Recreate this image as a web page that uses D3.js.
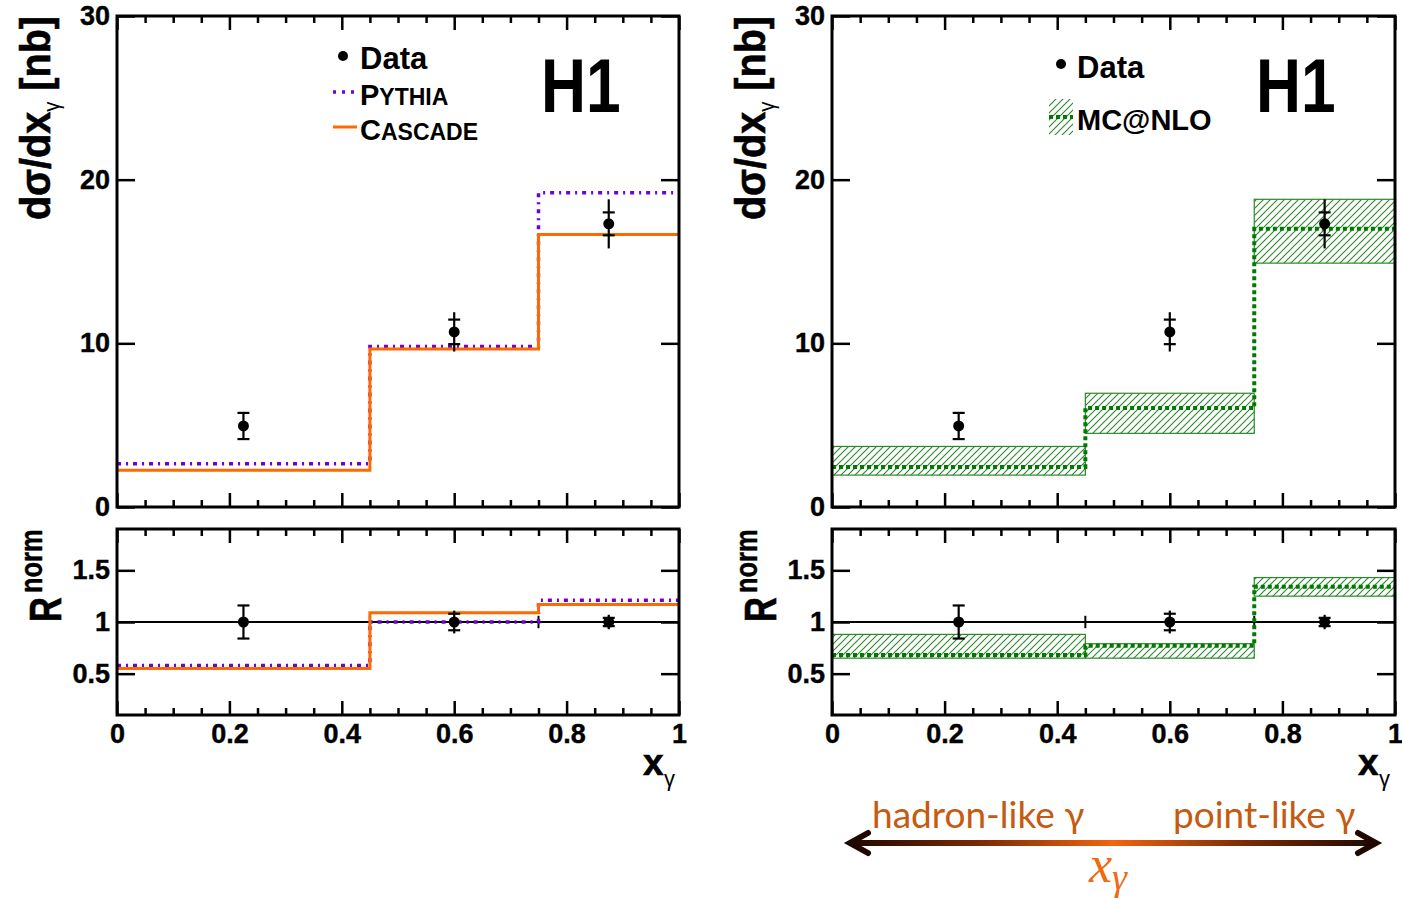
<!DOCTYPE html>
<html>
<head>
<meta charset="utf-8">
<script src="https://cdn.jsdelivr.net/npm/d3@7"></script>
<style>
  html, body { margin: 0; padding: 0; background: #fff; }
  svg { display: block; }
  .tk text { font-family: "Liberation Sans", Arial, sans-serif; font-weight: bold; font-size: 27px; fill: #000; stroke: #000; stroke-width: 0.4; }
  .tk path { display: none; }
  .tk line { stroke: #000; stroke-width: 2.5; }
</style>
</head>
<body>
<script>
// ---------------- data ----------------
const bins = [0, 0.45, 0.75, 1];
const xCenters = [0.225, 0.6, 0.875];
const dataVal = [4.95, 10.7, 17.3];
const dataStat = [0.8, 0.75, 0.7];
const dataTot = [0.85, 1.2, 1.5];
const pythiaVal = [2.65, 9.8, 19.2];
const cascadeVal = [2.25, 9.65, 16.65];
const mcnloVal = [2.45, 6.05, 17.0];
const mcnloLo = [1.95, 4.5, 14.9];
const mcnloHi = [3.7, 6.95, 18.8];
const ratioVal = [1, 1, 1];
const ratioStat = [0.16, 0.08, 0.04];
const ratioTot = [0.16, 0.11, 0.07];
const pythiaRatio = [0.58, 1.0, 1.21];
const cascadeRatio = [0.55, 1.09, 1.17];
const mcnloRatio = [0.68, 0.77, 1.34];
const mcnloRatioLo = [0.65, 0.65, 1.25];
const mcnloRatioHi = [0.88, 0.79, 1.43];
const xMajorTicks = [0, 0.2, 0.4, 0.6, 0.8, 1];
const xTickLabels = ["0", "0.2", "0.4", "0.6", "0.8", "1"];
const yTopTicks = [0, 10, 20, 30];
const yRatioTicks = [0.5, 1, 1.5];
const yRatioLabels = ["0.5", "1", "1.5"];

// ---------------- colours ----------------
const C_PYTHIA = "#6e00dc";
const C_CASCADE = "#ff6a00";
const C_MC = "#007a00";
const C_HATCH = "#2a8a2a";

const W = 1402, H = 898;
const svg = d3.select("body").append("svg").attr("width", W).attr("height", H);
const defs = svg.append("defs");

// hatch pattern
const pat = defs.append("pattern").attr("id", "hatch").attr("patternUnits", "userSpaceOnUse")
  .attr("width", 7).attr("height", 7);
pat.append("path").attr("d", "M-1.75,1.75 L1.75,-1.75 M0,7 L7,0 M5.25,8.75 L8.75,5.25")
  .attr("stroke", C_HATCH).attr("stroke-width", 1.1).attr("fill", "none");

// arrow gradient
const grad = defs.append("linearGradient").attr("id", "arrowGrad")
  .attr("gradientUnits", "userSpaceOnUse").attr("x1", 848).attr("x2", 1378).attr("y1", 0).attr("y2", 0);
grad.append("stop").attr("offset", "0%").attr("stop-color", "#200800");
grad.append("stop").attr("offset", "25%").attr("stop-color", "#7a2a04");
grad.append("stop").attr("offset", "50%").attr("stop-color", "#f26411");
grad.append("stop").attr("offset", "75%").attr("stop-color", "#7a2a04");
grad.append("stop").attr("offset", "100%").attr("stop-color", "#200800");

const FONT = '"Liberation Sans", Arial, sans-serif';

// ---------------- scales ----------------
const panels = [
  { x: d3.scaleLinear().domain([0, 1]).range([117, 679]), kind: "left" },
  { x: d3.scaleLinear().domain([0, 1]).range([832, 1395]), kind: "right" }
];
const yTop = d3.scaleLinear().domain([0, 30]).range([507, 16]);
const yRat = d3.scaleLinear().domain([0.1, 1.9]).range([715, 529]);

const stepLine = (x, y) => d3.line().curve(d3.curveStepAfter).x(d => x(d[0])).y(d => y(d[1]));
const stepPts = vals => bins.slice(0, -1).map((b, i) => [b, vals[i]]).concat([[bins[bins.length - 1], vals[vals.length - 1]]]);

function drawAxes(g, x, y, yTicks, yLabels, withXLabels) {
  const [x0, x1] = x.range();
  const [yb, yt] = y.range();
  const minor = d3.range(0, 1.0001, 0.05).filter(v => Math.abs(v * 5 - Math.round(v * 5)) > 1e-6);
  g.append("g").attr("class", "tk").attr("transform", `translate(0,${yb})`)
    .call(d3.axisBottom(x).tickValues(minor).tickSizeInner(-7).tickSizeOuter(0).tickFormat(""));
  g.append("g").attr("class", "tk").attr("transform", `translate(0,${yb})`)
    .call(d3.axisBottom(x).tickValues(xMajorTicks).tickSizeInner(-14).tickSizeOuter(0).tickPadding(9)
      .tickFormat((d, i) => withXLabels ? xTickLabels[i] : ""));
  g.append("g").attr("class", "tk").attr("transform", `translate(0,${yt})`)
    .call(d3.axisTop(x).tickValues(minor).tickSizeInner(-7).tickSizeOuter(0).tickFormat(""));
  g.append("g").attr("class", "tk").attr("transform", `translate(0,${yt})`)
    .call(d3.axisTop(x).tickValues(xMajorTicks).tickSizeInner(-14).tickSizeOuter(0).tickFormat(""));
  g.append("g").attr("class", "tk").attr("transform", `translate(${x0},0)`)
    .call(d3.axisLeft(y).tickValues(yTicks).tickSizeInner(-18).tickSizeOuter(0).tickPadding(7)
      .tickFormat((d, i) => yLabels[i]));
  g.append("g").attr("class", "tk").attr("transform", `translate(${x1},0)`)
    .call(d3.axisRight(y).tickValues(yTicks).tickSizeInner(-18).tickSizeOuter(0).tickFormat(""));
  g.append("rect").attr("x", x0).attr("y", yt).attr("width", x1 - x0).attr("height", yb - yt)
    .attr("fill", "none").attr("stroke", "#000").attr("stroke-width", 3);
}

function drawData(g, x, y, vals, stat, tot) {
  xCenters.forEach((c, i) => {
    const cx = x(c);
    g.append("line").attr("x1", cx).attr("x2", cx).attr("y1", y(vals[i] - tot[i])).attr("y2", y(vals[i] + tot[i]))
      .attr("stroke", "#000").attr("stroke-width", 2.2);
    [vals[i] - stat[i], vals[i] + stat[i]].forEach(v => {
      g.append("line").attr("x1", cx - 6).attr("x2", cx + 6).attr("y1", y(v)).attr("y2", y(v))
        .attr("stroke", "#000").attr("stroke-width", 2.2);
    });
    g.append("circle").attr("cx", cx).attr("cy", y(vals[i])).attr("r", 5.5).attr("fill", "#000");
  });
}

function drawBand(g, x, y, lo, hi) {
  lo.forEach((l, i) => {
    g.append("rect").attr("x", x(bins[i])).attr("width", x(bins[i + 1]) - x(bins[i]))
      .attr("y", y(hi[i])).attr("height", y(l) - y(hi[i]))
      .attr("fill", "url(#hatch)").attr("stroke", C_HATCH).attr("stroke-width", 1.2);
  });
}

function drawStep(g, x, y, vals, color, width, dash) {
  g.append("path").attr("d", stepLine(x, y)(stepPts(vals))).attr("fill", "none")
    .attr("stroke", color).attr("stroke-width", width).attr("stroke-dasharray", dash || null);
}

function unityLine(g, x) {
  g.append("line").attr("x1", x(0)).attr("x2", x(1)).attr("y1", yRat(1)).attr("y2", yRat(1))
    .attr("stroke", "#000").attr("stroke-width", 2.2);
  bins.slice(1, -1).forEach(b => {
    g.append("line").attr("x1", x(b)).attr("x2", x(b)).attr("y1", yRat(0.94)).attr("y2", yRat(1.06))
      .attr("stroke", "#000").attr("stroke-width", 2);
  });
}

function titles(g, dx) {
  const t = g.append("text").attr("transform", `translate(${50 + dx},16) rotate(-90) scale(0.92,1)`)
    .attr("text-anchor", "end").attr("font-family", FONT).attr("font-weight", "bold").attr("font-size", 43)
    .attr("stroke", "#000").attr("stroke-width", 0.6);
  t.append("tspan").text("dσ/dx");
  t.append("tspan").attr("font-size", 22).attr("font-weight", "normal").attr("stroke-width", 0).attr("dy", 9).text("γ");
  t.append("tspan").attr("dy", -9).text(" [nb]");
  g.append("text").attr("transform", `translate(${61 + dx},622) rotate(-90) scale(0.78,1)`)
    .attr("font-family", FONT).attr("font-weight", "bold").attr("font-size", 44)
    .attr("stroke", "#000").attr("stroke-width", 0.6).text("R");
  g.append("text").attr("transform", `translate(${42 + dx},593) rotate(-90) scale(0.82,1)`)
    .attr("font-family", FONT).attr("font-weight", "bold").attr("font-size", 31)
    .attr("stroke", "#000").attr("stroke-width", 0.4).text("norm");
  g.append("text").attr("x", 643 + dx).attr("y", 775).attr("font-family", FONT).attr("font-weight", "bold")
    .attr("font-size", 37).attr("stroke", "#000").attr("stroke-width", 0.6).text("x");
  g.append("text").attr("x", 664 + dx).attr("y", 786).attr("font-family", FONT)
    .attr("font-size", 22).text("γ");
  g.append("text").attr("transform", `translate(${541 + dx},112) scale(0.82,1)`)
    .attr("font-family", FONT).attr("font-weight", "bold").attr("font-size", 76).text("H1");
}

// ---------------- left panel ----------------
{
  const x = panels[0].x;
  const g = svg.append("g");
  drawStep(g, x, yTop, pythiaVal, C_PYTHIA, 3.5, "4,5,2,5");
  drawStep(g, x, yTop, cascadeVal, C_CASCADE, 3);
  drawData(g, x, yTop, dataVal, dataStat, dataTot);
  drawAxes(g, x, yTop, yTopTicks, yTopTicks.map(String), false);

  unityLine(g, x);
  drawStep(g, x, yRat, pythiaRatio, C_PYTHIA, 3.5, "4,5,2,5");
  drawStep(g, x, yRat, cascadeRatio, C_CASCADE, 3);
  drawData(g, x, yRat, ratioVal, ratioStat, ratioTot);
  drawAxes(g, x, yRat, yRatioTicks, yRatioLabels, true);
  titles(g, 0);

  const lg = g.append("g").attr("font-family", FONT).attr("font-weight", "bold");
  lg.append("circle").attr("cx", 343).attr("cy", 56).attr("r", 5).attr("fill", "#000");
  lg.append("text").attr("x", 360).attr("y", 69).attr("font-size", 31).text("Data");
  lg.append("line").attr("x1", 333).attr("x2", 357).attr("y1", 92).attr("y2", 92)
    .attr("stroke", C_PYTHIA).attr("stroke-width", 3.5).attr("stroke-dasharray", "3,6");
  const tp = lg.append("text").attr("x", 360).attr("y", 105).attr("font-size", 29);
  tp.append("tspan").text("P");
  tp.append("tspan").attr("font-size", 23).text("YTHIA");
  lg.append("line").attr("x1", 333).attr("x2", 357).attr("y1", 127).attr("y2", 127)
    .attr("stroke", C_CASCADE).attr("stroke-width", 3);
  const tc = lg.append("text").attr("x", 360).attr("y", 140).attr("font-size", 29);
  tc.append("tspan").text("C");
  tc.append("tspan").attr("font-size", 23).text("ASCADE");
}

// ---------------- right panel ----------------
{
  const x = panels[1].x;
  const g = svg.append("g");
  drawBand(g, x, yTop, mcnloLo, mcnloHi);
  drawStep(g, x, yTop, mcnloVal, C_MC, 4, "4,3");
  drawData(g, x, yTop, dataVal, dataStat, dataTot);
  drawAxes(g, x, yTop, yTopTicks, yTopTicks.map(String), false);

  drawBand(g, x, yRat, mcnloRatioLo, mcnloRatioHi);
  unityLine(g, x);
  drawStep(g, x, yRat, mcnloRatio, C_MC, 4, "4,3");
  drawData(g, x, yRat, ratioVal, ratioStat, ratioTot);
  drawAxes(g, x, yRat, yRatioTicks, yRatioLabels, true);
  titles(g, 715);

  const lg = g.append("g").attr("font-family", FONT).attr("font-weight", "bold");
  lg.append("circle").attr("cx", 1061).attr("cy", 64).attr("r", 5).attr("fill", "#000");
  lg.append("text").attr("x", 1077).attr("y", 78).attr("font-size", 31).text("Data");
  lg.append("rect").attr("x", 1049).attr("y", 99).attr("width", 24).attr("height", 36).attr("fill", "url(#hatch)");
  lg.append("line").attr("x1", 1049).attr("x2", 1073).attr("y1", 117).attr("y2", 117)
    .attr("stroke", C_MC).attr("stroke-width", 4).attr("stroke-dasharray", "4,3");
  lg.append("text").attr("x", 1077).attr("y", 130).attr("font-size", 29).text("MC@NLO");
}

// ---------------- annotation ----------------
{
  const g = svg.append("g");
  const ay = 843;
  g.append("line").attr("x1", 852).attr("x2", 1374).attr("y1", ay).attr("y2", ay)
    .attr("stroke", "url(#arrowGrad)").attr("stroke-width", 6);
  g.append("path").attr("d", `M868,${ay - 10} L850,${ay} L868,${ay + 10}`)
    .attr("fill", "none").attr("stroke", "#200800").attr("stroke-width", 6)
    .attr("stroke-linecap", "round").attr("stroke-linejoin", "miter");
  g.append("path").attr("d", `M1358,${ay - 10} L1376,${ay} L1358,${ay + 10}`)
    .attr("fill", "none").attr("stroke", "#200800").attr("stroke-width", 6)
    .attr("stroke-linecap", "round").attr("stroke-linejoin", "miter");
  g.append("text").attr("x", 872).attr("y", 828).attr("font-family", "Lato, 'Open Sans', sans-serif")
    .attr("font-size", 37).attr("fill", "#c55a11").text("hadron-like γ");
  g.append("text").attr("x", 1173).attr("y", 828).attr("font-family", "Lato, 'Open Sans', sans-serif")
    .attr("font-size", 37).attr("fill", "#c55a11").text("point-like γ");
  const xg = g.append("text").attr("x", 1089).attr("y", 882).attr("font-family", "'Liberation Serif', 'DejaVu Serif', serif")
    .attr("font-style", "italic").attr("font-size", 52).attr("fill", "#f06a14");
  xg.append("tspan").text("x");
  xg.append("tspan").attr("font-size", 38).attr("dy", 8).text("γ");
}
</script>
</body>
</html>
